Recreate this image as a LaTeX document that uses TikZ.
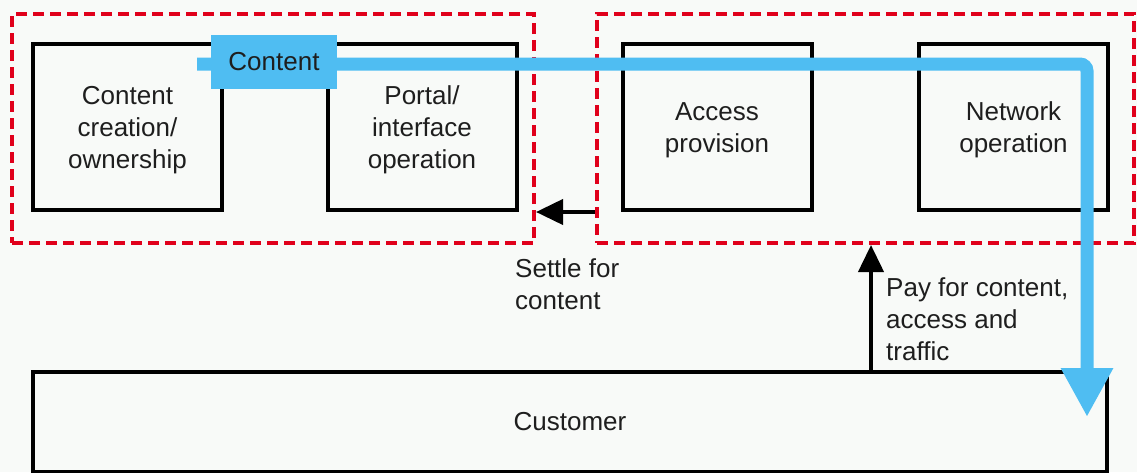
\documentclass[tikz,border=0pt]{standalone}
\usepackage{fontspec}
\setmainfont{Liberation Sans}
\usetikzlibrary{arrows.meta}

\definecolor{bgpaper}{HTML}{F8FAF8}
\definecolor{inkgrey}{HTML}{1E1E1E}
\definecolor{groupred}{HTML}{E0001B}
\definecolor{flowblue}{HTML}{4FBDF2}

\tikzset{
  role/.style={draw=black, line width=4pt, fill=none,
    minimum width=189pt, minimum height=166pt, inner sep=0pt,
    label={[rolename]center:#1}},
  rolename/.style={text=inkgrey, align=center, inner sep=0pt, yshift=-3pt,
    font=\fontsize{26}{32}\selectfont},
  group/.style={draw=groupred, line width=4pt, dash pattern=on 11pt off 6pt,
    inner sep=0pt},
  note/.style={text=inkgrey, align=left, anchor=west, inner sep=0pt,
    font=\fontsize{26}{32}\selectfont},
  money/.style={draw=black, line width=4pt,
    -{Triangle[length=27pt,width=25pt]}},
  flow/.style={draw=flowblue, line width=13pt, rounded corners=7pt,
    -{Triangle[length=49pt,width=49pt]}},
  flowtag/.style={fill=flowblue, text=inkgrey, minimum width=126pt,
    minimum height=54pt, inner sep=0pt, font=\fontsize{26}{32}\selectfont}
}

\begin{document}
\begin{tikzpicture}[x=1pt,y=-1pt]
  % page
  \fill[bgpaper] (0,0) rectangle (1137,472);
  \useasboundingbox (0,0) rectangle (1137,472);

  % groupings of roles
  \node[group, minimum width=522pt, minimum height=229pt] (lgroup) at (273,128.5) {};
  \node[group, minimum width=537pt, minimum height=229pt] (rgroup) at (865.5,128.5) {};

  % roles
  \node[role={Content\\creation/\\ownership}] (create) at (127.5,127) {};
  \node[role={Portal/\\interface\\operation}] (portal) at (422,127) {};
  \node[role={Access\\provision}] (access) at (717,127) {};
  \node[role={Network\\operation}] (netop) at (1013.5,127) {};

  % customer
  \node[draw=black, line width=4pt, text=inkgrey, minimum width=1074pt,
        minimum height=100pt, inner sep=0pt, font=\fontsize{26}{32}\selectfont]
        (customer) at (570,422) {Customer};

  % content flow to the customer
  \coordinate (flowstart) at (197,64);
  \coordinate (flowend) at (1087,417);
  \draw[flow] (flowstart) -| (flowend);
  \node[flowtag] (contenttag) at (274,62) {Content};

  % money flows
  \coordinate (payx) at (871,0);
  \draw[money] (rgroup.west |- portal.south) -- (lgroup.east |- portal.south);
  \draw[money] (customer.north -| payx) -- (rgroup.south -| payx);

  \node[note] (settle) at (515,284) {Settle for\\content};
  \node[note] (pay) at (886,319) {Pay for content,\\access and\\traffic};
\end{tikzpicture}
\end{document}
